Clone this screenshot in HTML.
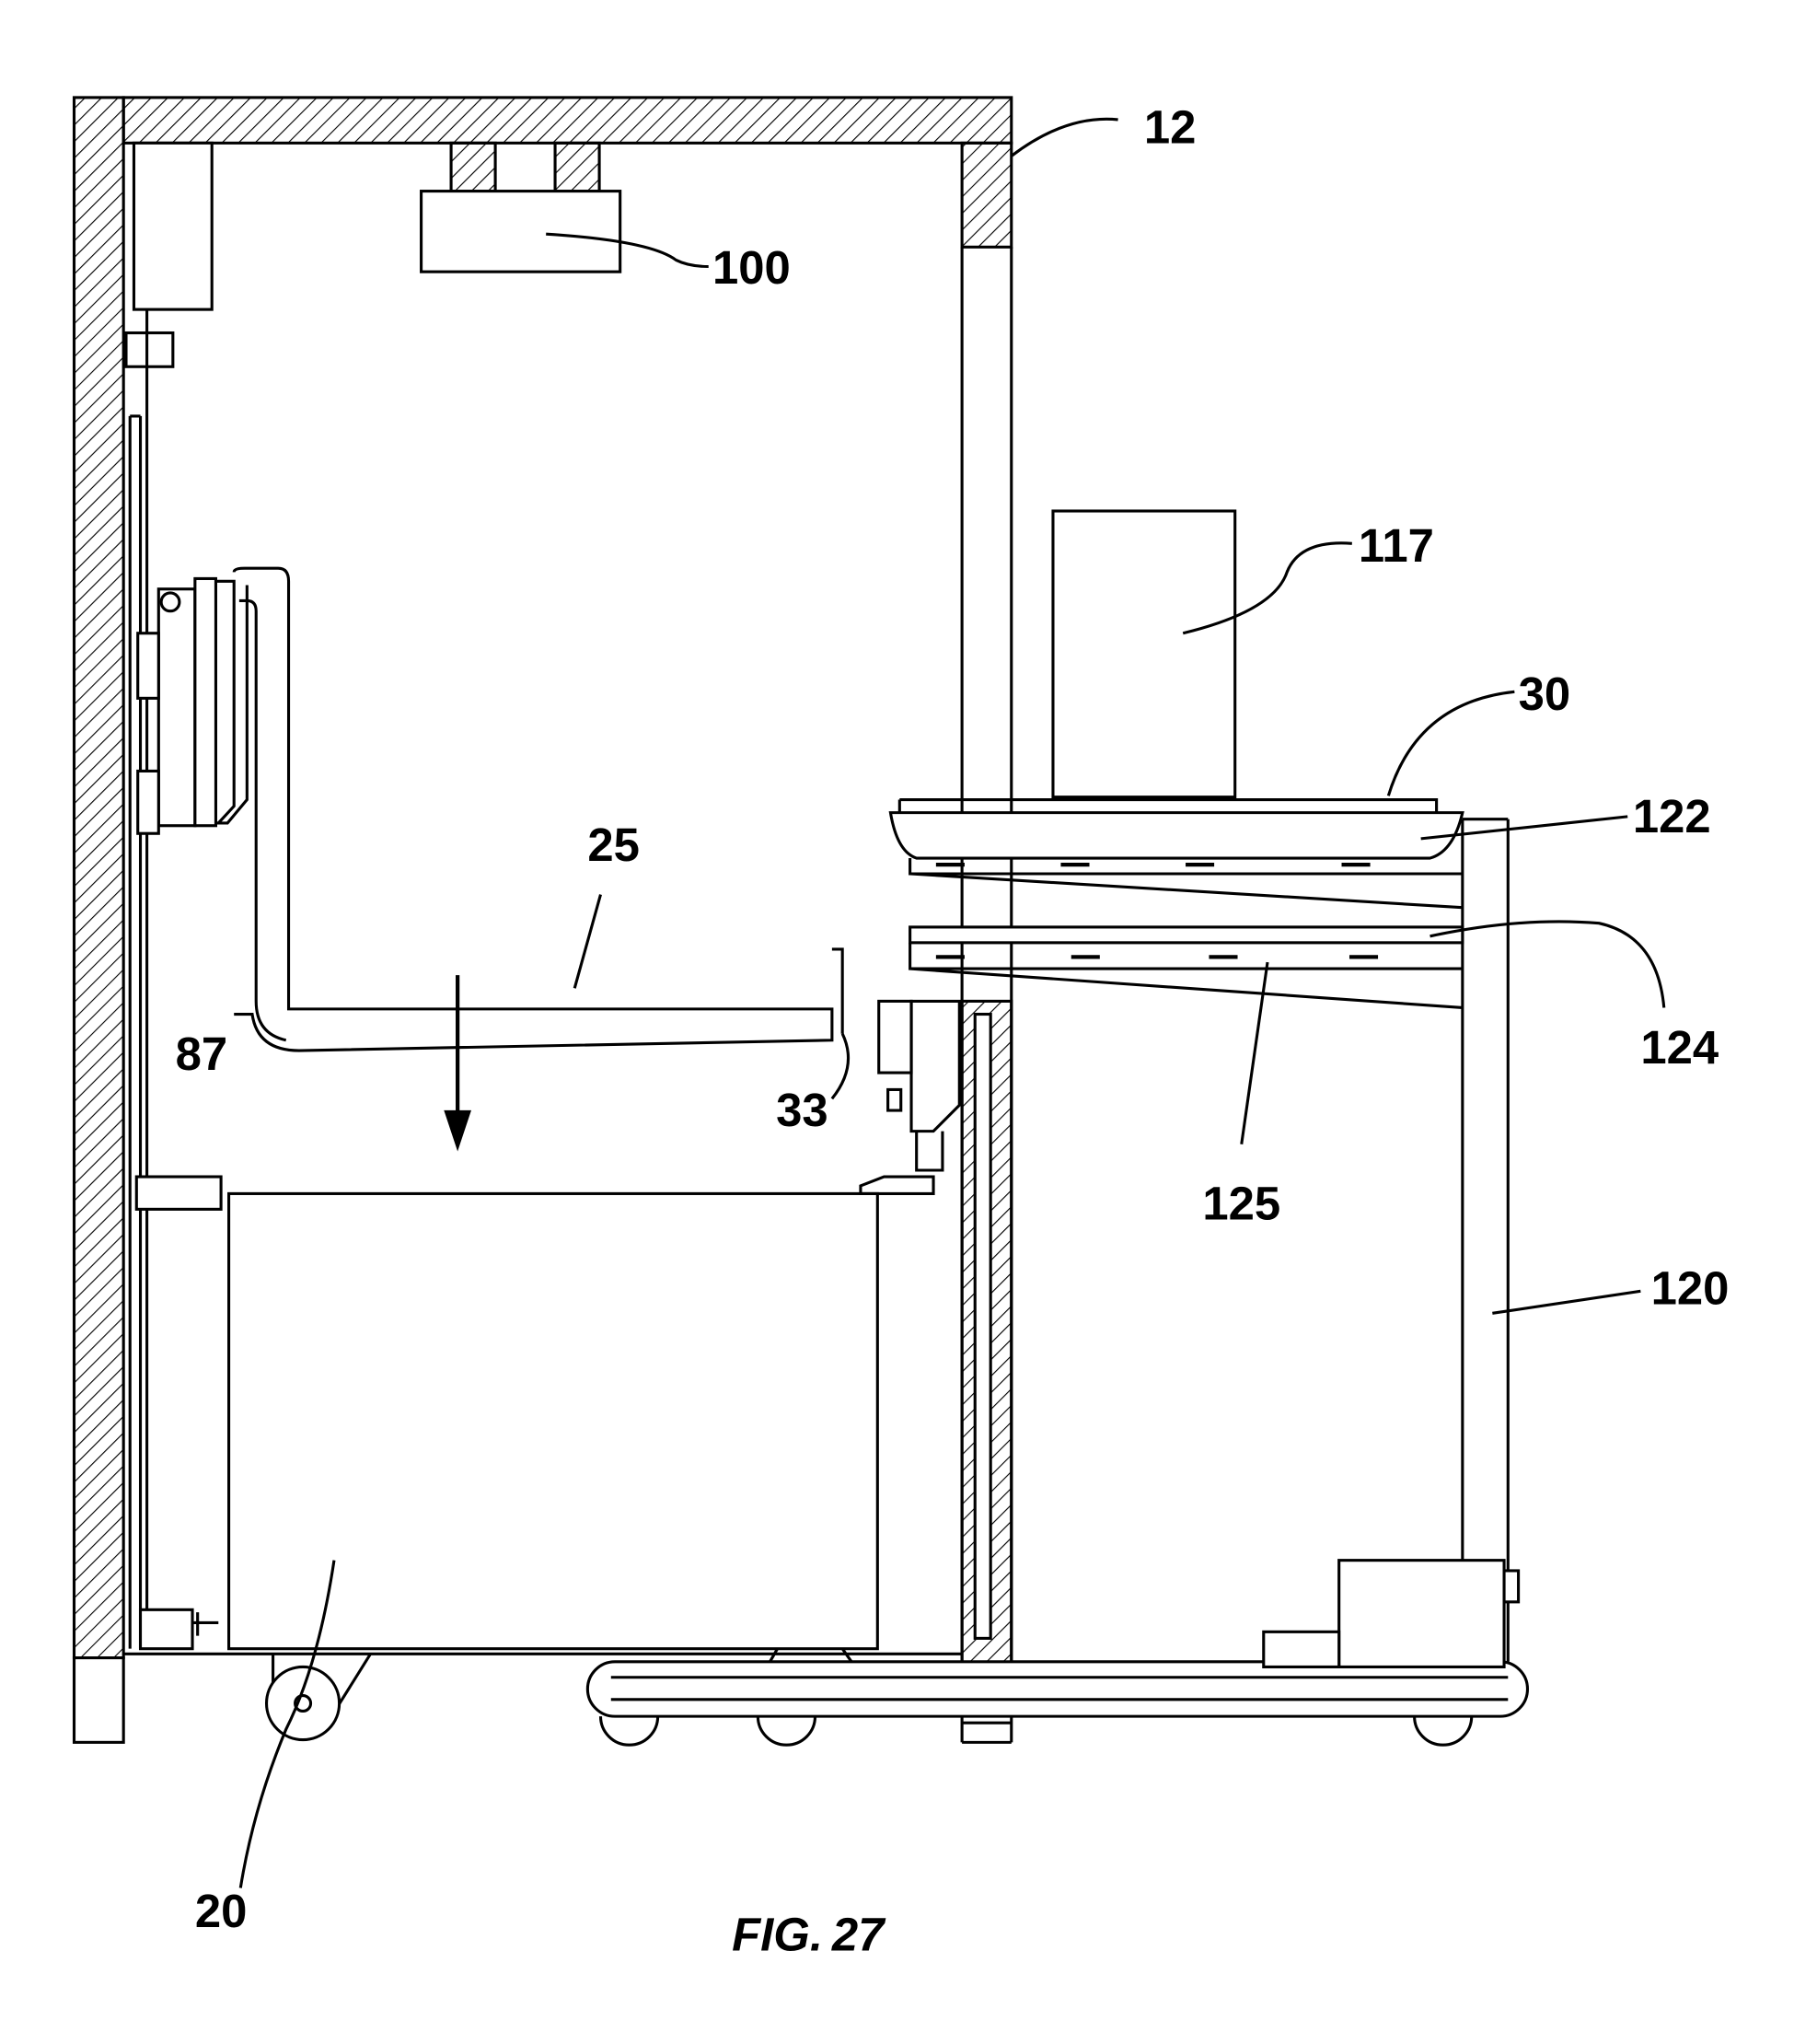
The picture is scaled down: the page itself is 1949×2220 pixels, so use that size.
<!DOCTYPE html>
<html><head><meta charset="utf-8"><style>html,body{margin:0;padding:0;background:#fff}svg{display:block}
text{font-family:"Liberation Sans",sans-serif;font-weight:bold;font-size:36px;fill:#000}</style></head>
<body>
<svg width="1949" height="2220" viewBox="0 0 1380 1572" preserveAspectRatio="none" xmlns="http://www.w3.org/2000/svg">
<defs>
<pattern id="h" patternUnits="userSpaceOnUse" width="9" height="9" patternTransform="rotate(45)">
<line x1="0" y1="0" x2="0" y2="9" stroke="#000" stroke-width="1.6"/></pattern>
</defs>
<g stroke="#000" stroke-width="2.2" fill="none">
<rect x="57" y="75" width="38" height="1200" fill="url(#h)"/>
<rect x="57" y="1275" width="38" height="65" fill="#fff"/>
<rect x="95" y="75" width="683" height="35" fill="url(#h)"/>
<rect x="740" y="110" width="38" height="80" fill="url(#h)"/>
<path d="M740 190V1340M778 190V1340M740 1325H778M740 1340H778"/>
<rect x="740" y="770" width="38" height="515" fill="url(#h)"/>
<rect x="750" y="780" width="12" height="480" fill="#fff"/>
<rect x="103" y="110" width="60" height="128" fill="#fff"/>
<rect x="97" y="256" width="36" height="26" fill="#fff"/>
<rect x="347" y="110" width="34" height="37" fill="url(#h)"/>
<rect x="427" y="110" width="34" height="37" fill="url(#h)"/>
<rect x="324" y="147" width="153" height="62" fill="#fff"/>
<path d="M100 320V1268M108 320V1268M100 320H108M113 238V1268"/>
<!-- pump -->
<rect x="122" y="453" width="28" height="182" fill="#fff"/>
<rect x="150" y="445" width="16" height="190" fill="#fff"/>
<rect x="106" y="487" width="16" height="50" fill="#fff"/>
<rect x="106" y="593" width="16" height="48" fill="#fff"/>
<circle cx="131" cy="463" r="7"/>
<path d="M166 633 H175 L190 615 V450"/>
<path d="M166 447 H180 L180 620 L168 633"/>
<!-- pipe -->
<path d="M180 440 Q180 437 188 437 L214 437 Q222 437 222 447 L222 776 H640 V800 L230 808 Q198 808 194 780 L180 780"/>
<path d="M197 470 Q197 462 190 462 L184 462 M197 470 V770 Q197 795 220 800"/>
<path d="M640 730 H648 V795 M648 795 Q660 820 640 845"/>
<path d="M352 750V860" stroke-width="3"/>
<path d="M343 855 L352 882 L361 855 Z" fill="#000"/>
<rect x="105" y="905" width="65" height="25" fill="#fff"/>
<rect x="176" y="918" width="499" height="350" fill="#fff"/>
<rect x="108" y="1238" width="40" height="30" fill="#fff"/>
<path d="M148 1248 H168 M152 1240V1258"/>
<path d="M95 1272 H740 M210 1272 L210 1300 M285 1272 L255 1320"/>
<circle cx="233" cy="1310" r="28" fill="#fff"/><circle cx="233" cy="1310" r="6"/>
<path d="M598 1268 L590 1282 M648 1268 L655 1278"/>
<rect x="676" y="770" width="25" height="55"/>
<path d="M701 770 H738 V850 L718 870 H701 Z"/>
<rect x="683" y="838" width="10" height="16"/>
<path d="M705 870 V900 H725 V870 M662 912 L680 905 H718 V918 H662 Z"/>
<rect x="452" y="1278" width="723" height="42" rx="21" fill="#fff"/>
<path d="M470 1290 H1160 M470 1307 H1160"/>
<path d="M462 1320 A22 22 0 0 0 506 1320 M583 1320 A22 22 0 0 0 627 1320 M1088 1320 A22 22 0 0 0 1132 1320"/>
<path d="M1125 630 V1278 M1160 630 V1278 M1125 630 H1160"/>
<rect x="1030" y="1200" width="127" height="82" fill="#fff"/>
<rect x="972" y="1255" width="58" height="27" fill="#fff"/>
<rect x="1157" y="1208" width="11" height="24" fill="#fff"/>
<rect x="810" y="393" width="140" height="220" fill="#fff"/>
<path d="M692 615 H1105 V625 M692 615 V625"/>
<path d="M685 625 H1125 Q1118 655 1100 660 H705 Q690 655 685 625 Z" fill="#fff"/>
<path d="M700 660 V672 H1125 M700 672 L1125 698"/>
<rect x="700" y="713" width="425" height="12" fill="#fff"/>
<path d="M700 725 V745 H1125 M700 745 L1125 775"/>
<path d="M720 665 H742 M816 665 H838 M912 665 H934 M1032 665 H1054 M720 736 H742 M824 736 H846 M930 736 H952 M1038 736 H1060" stroke-width="3"/>
<path d="M778 120 Q820 88 860 92"/>
<path d="M420 180 Q500 185 520 200 Q530 205 545 205"/>
<path d="M910 487 Q980 470 990 440 Q1000 415 1040 418"/>
<path d="M1068 612 Q1090 540 1165 532"/>
<path d="M1093 645 L1252 628"/>
<path d="M1100 720 Q1170 705 1230 710 Q1275 720 1280 775"/>
<path d="M975 740 L955 880"/>
<path d="M442 760 L462 688"/>
<path d="M1148 1010 L1262 993"/>
<path d="M257 1200 Q245 1280 220 1330 Q195 1390 185 1452"/>
</g>
<text x="880" y="110">12</text>
<text x="548" y="218">100</text>
<text x="1045" y="432">117</text>
<text x="1168" y="546">30</text>
<text x="1256" y="640">122</text>
<text x="1262" y="818">124</text>
<text x="925" y="938">125</text>
<text x="452" y="662">25</text>
<text x="597" y="866">33</text>
<text x="135" y="823">87</text>
<text x="1270" y="1003">120</text>
<text x="150" y="1482">20</text>
<text x="563" y="1500" font-style="italic" font-size="42">FIG.</text>
<text x="640" y="1500" font-style="italic" font-size="60">27</text>
</svg>
</body></html>
